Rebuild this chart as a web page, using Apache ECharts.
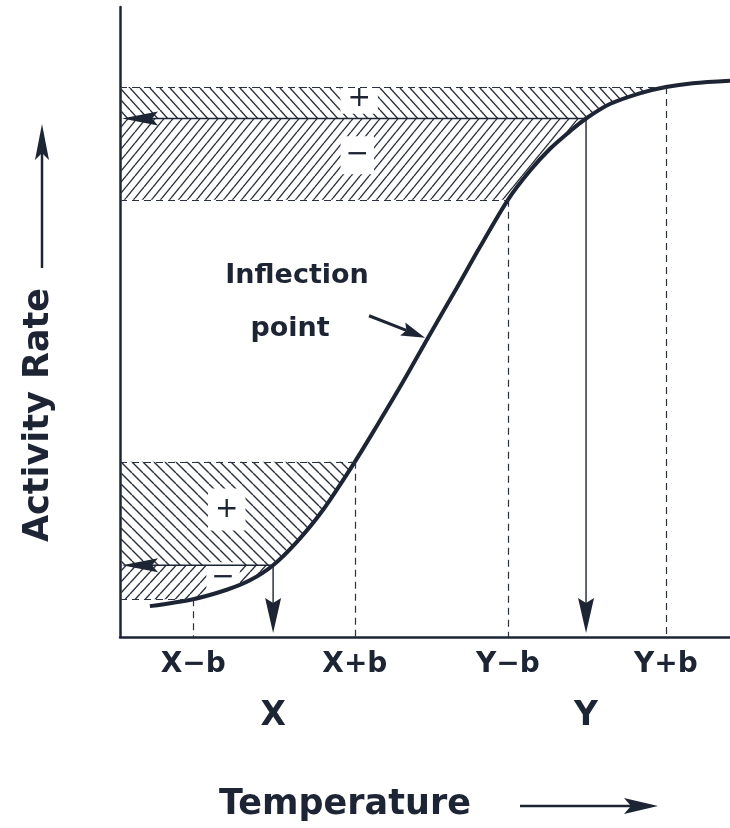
<!DOCTYPE html>
<html>
<head>
<meta charset="utf-8">
<script src="https://cdn.jsdelivr.net/npm/echarts@6/dist/echarts.min.js"></script>
<style>
  html, body { margin: 0; padding: 0; background: #ffffff; }
  #chart { width: 730px; height: 828px; }
</style>
</head>
<body>
<div id="chart"></div>
<script>
// Activity-rate curve: temperature (x) against activity rate (y), both on a 0-100 scale
const temperature = [4.9, 12.0, 17.5, 21.3, 25.1, 29.0, 33.3, 38.5, 42.1, 46.4, 50.5, 55.2,
                     59.0, 63.6, 67.2, 70.5, 73.8, 76.4, 80.3, 85.2, 89.5, 93.9, 100];
const activity    = [4.9, 6.0, 7.5, 9.0, 11.4, 15.1, 20.2, 27.8, 33.5, 40.5, 47.5, 55.4,
                     61.9, 69.4, 74.0, 77.5, 80.3, 82.3, 84.6, 86.3, 87.3, 87.9, 88.3];

// Fluctuation limits (mean ± b) and the two mean temperatures
const offsetTicks = [12.0, 38.5, 63.6, 89.5];
const offsetLabels = ['X\u2212b', 'X+b', 'Y\u2212b', 'Y+b'];
const meanTicks = [25.1, 76.4];
const meanLabels = ['X', 'Y'];

// Gain / loss bands: temperature span and sign
const bandLow  = [76.4, 63.6, 25.1, 12.0];
const bandHigh = [89.5, 76.4, 38.5, 25.1];
const bandSign = ['+', '\u2212', '+', '\u2212'];

// Point of inflection on the curve
const inflectionTemp = 50.5;

const ink = '#1d2434';
const FONT = '"DejaVu Sans", "Liberation Sans", sans-serif';

function idxOf(t) {
  let best = 0;
  for (let i = 1; i < temperature.length; i++) {
    if (Math.abs(temperature[i] - t) < Math.abs(temperature[best] - t)) best = i;
  }
  return best;
}
function rateAt(t) { return activity[idxOf(t)]; }
function nearestLabel(v, ticks, labels) {
  let best = 0;
  ticks.forEach((t, i) => { if (Math.abs(t - v) < Math.abs(ticks[best] - v)) best = i; });
  return labels[best];
}

// Diagonal hatch tile: 'back' = "\" strokes, 'fwd' = "/" strokes
function hatch(w, h, dir) {
  const c = document.createElement('canvas');
  c.width = w; c.height = h;
  const g = c.getContext('2d');
  g.strokeStyle = '#2a303d';
  g.lineWidth = 1.4;
  for (const dx of [-w, 0, w]) {
    g.beginPath();
    if (dir === 'back') { g.moveTo(dx, 0); g.lineTo(dx + w, h); }
    else { g.moveTo(dx, h); g.lineTo(dx + w, 0); }
    g.stroke();
  }
  return c;
}
const bandFill = [hatch(10, 11, 'back'), hatch(9, 11, 'fwd'), hatch(11, 11, 'back'), hatch(10, 11, 'fwd')];
const signAt = [39.2, 38.9, 17.5, 16.9];            // horizontal spot of each sign
const signPad = [[1, 7], [5, 5], [7, 7], [2, 5]];

// Dashed guide lines at the fluctuation limits
const guides = [];
offsetTicks.forEach(t => {
  const r = rateAt(t);
  guides.push([{ coord: [t, r] }, { coord: [t, 0] }]);
  guides.push([{ coord: [0, r] }, { coord: [t, r] }]);
});

const chart = echarts.init(document.getElementById('chart'), null, { renderer: 'canvas' });

chart.setOption({
  animation: false,
  backgroundColor: '#ffffff',
  grid: { left: 120, right: 0, top: 7, bottom: 191 },
  xAxis: [
    {
      type: 'value', min: 0, max: 100,
      axisLine: { show: true, lineStyle: { color: ink, width: 2.5 } },
      axisTick: { show: false },
      splitLine: { show: false },
      axisLabel: {
        customValues: offsetTicks,
        formatter: v => nearestLabel(v, offsetTicks, offsetLabels),
        margin: 14,
        color: ink,
        fontFamily: '"DejaVu Sans"',
        fontWeight: 'bold',
        fontSize: 28
      }
    },
    {
      type: 'value', min: 0, max: 100, position: 'bottom',
      axisLine: { show: false },
      axisTick: { show: false },
      splitLine: { show: false },
      axisLabel: {
        customValues: meanTicks,
        formatter: v => nearestLabel(v, meanTicks, meanLabels),
        margin: 63,
        color: ink,
        fontFamily: '"DejaVu Sans"',
        fontWeight: 'bold',
        fontSize: 33
      }
    }
  ],
  yAxis: {
    type: 'value', min: 0, max: 100,
    axisLine: { show: true, lineStyle: { color: ink, width: 2.5 } },
    axisTick: { show: false },
    axisLabel: { show: false },
    splitLine: { show: false }
  },
  graphic: [
    { type: 'text', x: 345, y: 805, style: { text: 'Temperature', font: 'bold 35px ' + FONT, fill: ink, align: 'center', verticalAlign: 'middle' } },
    { type: 'line', shape: { x1: 520, y1: 806, x2: 634, y2: 806 }, style: { stroke: ink, lineWidth: 2.5 } },
    { type: 'polygon', shape: { points: [[658, 806], [624, 798], [631, 806], [624, 814]] }, style: { fill: ink } },
    { type: 'text', x: 39, y: 415, rotation: Math.PI / 2, style: { text: 'Activity Rate', font: 'bold 35px ' + FONT, fill: ink, align: 'center', verticalAlign: 'middle' } },
    { type: 'line', shape: { x1: 42, y1: 268, x2: 42, y2: 150 }, style: { stroke: ink, lineWidth: 2.5 } },
    { type: 'polygon', shape: { points: [[42, 124], [35, 160], [42, 153], [49, 160]] }, style: { fill: ink } }
  ],
  series: [
    {
      // hatched gain / loss bands bounded by the curve
      type: 'custom',
      z: 1,
      silent: true,
      data: bandLow.map((lo, i) => [lo, bandHigh[i]]),
      renderItem: (params, api) => {
        const i = params.dataIndex;
        const iLo = idxOf(bandLow[i]), iHi = idxOf(bandHigh[i]);
        const pts = [api.coord([0, activity[iHi]])];
        for (let k = iHi; k >= iLo; k--) pts.push(api.coord([temperature[k], activity[k]]));
        pts.push(api.coord([0, activity[iLo]]));
        const top = api.coord([0, activity[iHi]])[1];
        const bot = api.coord([0, activity[iLo]])[1];
        const sx = api.coord([signAt[i], 0])[0];
        return {
          type: 'group',
          children: [
            { type: 'polygon', shape: { points: pts }, style: { fill: { image: bandFill[i], repeat: 'repeat' }, stroke: null } },
            { type: 'text', z2: 5, style: {
                text: bandSign[i], x: sx, y: (top + bot) / 2 - 4,
                align: 'center', verticalAlign: 'middle',
                font: '28px ' + FONT, fill: ink,
                backgroundColor: '#ffffff', padding: signPad[i]
              } }
          ]
        };
      }
    },
    {
      // dashed guides
      type: 'line',
      z: 2,
      data: [],
      markLine: {
        silent: true,
        symbol: ['none', 'none'],
        label: { show: false },
        lineStyle: { color: '#2a303d', width: 1.2, type: [7, 5] },
        data: guides
      }
    },
    {
      // the activity curve
      type: 'line',
      z: 4,
      data: temperature.map((t, i) => [t, activity[i]]),
      smooth: 0.3,
      showSymbol: false,
      silent: true,
      lineStyle: { color: ink, width: 4 },
      clip: false
    },
    {
      // arrows from the mean temperatures down to the axis and across to the rate axis
      type: 'custom',
      z: 3,
      silent: true,
      data: meanTicks.map(t => [t, rateAt(t)]),
      renderItem: (params, api) => {
        const t = api.value(0), r = api.value(1);
        const p = api.coord([t, r]);
        const base = api.coord([t, 0]);
        const left = api.coord([0, r]);
        const tipY = base[1] - 4;
        const tipX = left[0] + 2;
        return {
          type: 'group',
          children: [
            { type: 'line', shape: { x1: p[0], y1: p[1], x2: p[0], y2: tipY - 20 }, style: { stroke: ink, lineWidth: 1.4 } },
            { type: 'polygon', shape: { points: [[p[0], tipY], [p[0] - 8, tipY - 35], [p[0], tipY - 30], [p[0] + 8, tipY - 35]] }, style: { fill: ink } },
            { type: 'line', shape: { x1: p[0], y1: p[1], x2: tipX + 20, y2: p[1] }, style: { stroke: ink, lineWidth: 1.4 } },
            { type: 'polygon', shape: { points: [[tipX, p[1]], [tipX + 36, p[1] - 7], [tipX + 30, p[1]], [tipX + 36, p[1] + 7]] }, style: { fill: ink } }
          ]
        };
      }
    },
    {
      // inflection point note
      type: 'custom',
      z: 5,
      silent: true,
      data: [[inflectionTemp, rateAt(inflectionTemp)]],
      renderItem: (params, api) => {
        const p = api.coord([api.value(0), api.value(1)]);
        const tx = p[0] - 3, ty = p[1];
        const sx = tx - 56, sy = ty - 22;
        const len = Math.hypot(tx - sx, ty - sy);
        const ux = (tx - sx) / len, uy = (ty - sy) / len;
        const hl = 24, hw = 7;
        const bx = tx - ux * hl, by = ty - uy * hl;
        return {
          type: 'group',
          children: [
            { type: 'line', shape: { x1: sx, y1: sy, x2: bx + ux * 4, y2: by + uy * 4 }, style: { stroke: ink, lineWidth: 3 } },
            { type: 'polygon', shape: { points: [[tx, ty], [bx - uy * hw, by + ux * hw], [bx + ux * 4, by + uy * 4], [bx + uy * hw, by - ux * hw]] }, style: { fill: ink } },
            { type: 'text', style: { text: 'Inflection', x: p[0] - 131, y: p[1] - 62, align: 'center', verticalAlign: 'middle', font: 'bold 27px ' + FONT, fill: ink } },
            { type: 'text', style: { text: 'point', x: p[0] - 138, y: p[1] - 9, align: 'center', verticalAlign: 'middle', font: 'bold 27px ' + FONT, fill: ink } }
          ]
        };
      }
    }
  ]
});
</script>
</body>
</html>
